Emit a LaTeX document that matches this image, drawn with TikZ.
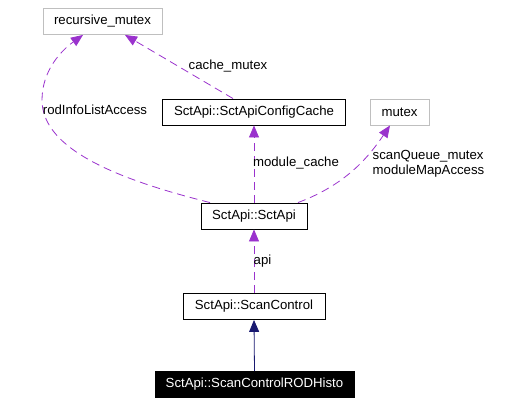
\documentclass[tikz,border=0pt]{standalone}
\usepackage{fontspec}
\setmainfont{Liberation Sans}
\usetikzlibrary{arrows.meta}
\definecolor{edgepurple}{HTML}{9A32CD}
\definecolor{edgenavy}{HTML}{191970}
\definecolor{boxgray}{HTML}{BFBFBF}
\tikzset{
  classbox/.style={draw=black, line width=0.9pt, inner xsep=10.5pt, inner ysep=0pt, minimum height=26pt, font=\fontsize{13.2}{15}\selectfont},
  extbox/.style={classbox, draw=boxgray},
  focusbox/.style={classbox, fill=black, text=white},
  uses/.style={edgepurple, line width=0.8pt, dash pattern=on 8pt off 5pt, -{Triangle[length=12pt,width=10pt]}},
  inherits/.style={edgenavy, line width=0.8pt, -{Triangle[length=12pt,width=10pt]}},
  lbl/.style={inner sep=0pt, font=\fontsize{13.2}{15}\selectfont}
}
\begin{document}
\begin{tikzpicture}[x=1pt, y=-1pt]
        \useasboundingbox (0,0) rectangle (520,404);
        % classes
        \node[extbox, minimum width=119pt] (recmutex) at (102.5,21.5) {recursive\_mutex};
        \node[classbox, minimum width=183pt] (cfgcache) at (254,112) {SctApi::SctApiConfigCache};
        \node[extbox, minimum width=59pt] (mutex) at (399.5,112) {mutex};
        \node[classbox, minimum width=106pt] (sctapi) at (254,216) {SctApi::SctApi};
        \node[classbox, minimum width=142pt] (scanctrl) at (254,306.5) {SctApi::ScanControl};
        \node[focusbox, minimum width=199pt] (rodhisto) at (254.5,384.5) {SctApi::ScanControlRODHisto};
        % usage edges
        \draw[uses] ([xshift=-44pt]sctapi.north) .. controls (120,180) and (42,150) .. (42,100)
            .. controls (42,70) and (62,50) .. ([xshift=-19.5pt]recmutex.south);
        \draw[uses] ([xshift=-21pt]cfgcache.north) -- ([xshift=22.5pt]recmutex.south);
        \draw[uses] (sctapi.north) -- (cfgcache.south);
        \draw[uses] ([xshift=44pt]sctapi.north) .. controls (345,185) and (368,158) .. ([xshift=-9.5pt]mutex.south);
        \draw[uses] (scanctrl.north) -- (sctapi.south);
        % inheritance
        \draw[inherits] (rodhisto.north) -- (scanctrl.south);
        % edge labels
        \node[lbl] (lrodinfo) at (95,110) {rodInfoListAccess};
        \node[lbl] (lcache) at (228,66) {cache\_mutex};
        \node[lbl] (lmodule) at (296,163) {module\_cache};
        \node[lbl, align=left] (lscanq) at (428.5,163.5) {scanQueue\_mutex\\moduleMapAccess};
        \node[lbl] (lapi) at (262.5,261) {api};
\end{tikzpicture}
\end{document}
